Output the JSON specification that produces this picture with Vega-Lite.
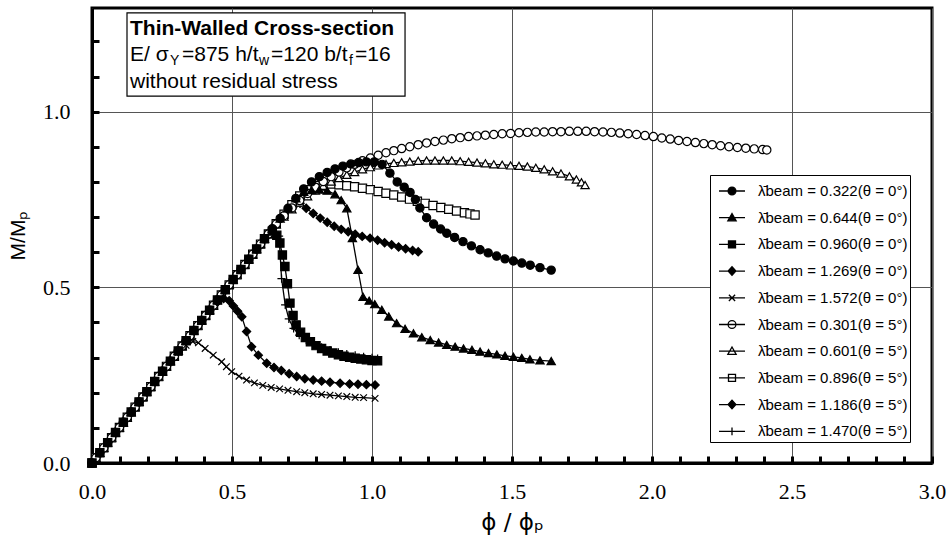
{
"$schema": "https://vega.github.io/schema/vega-lite/v6.json",
"width": 840, "height": 455,
"autosize": "none",
"padding": {"left": 92, "top": 8, "right": 19, "bottom": 80},
"background": "white",
"config": {
  "view": {"stroke": "black", "strokeWidth": 3},
  "axis": {"domainColor": "black", "domainWidth": 3, "tickColor": "black", "tickWidth": 3, "tickSize": -7, "tickCount": 100,
    "labelFont": "Liberation Sans Narrow", "labelFontSize": 22, "labelColor": "black", "labelOverlap": false, "labelFlush": false,
    "titleFont": "Liberation Sans", "titleFontWeight": "normal", "titleColor": "black", "gridWidth": 1}
},
"datasets": {
  "series": [
    {"k": "A", "label": "0.322(θ = 0°)"}, {"k": "B", "label": "0.644(θ = 0°)"}, {"k": "C", "label": "0.960(θ = 0°)"},
    {"k": "D", "label": "1.269(θ = 0°)"}, {"k": "E", "label": "1.572(θ = 0°)"}, {"k": "F", "label": "0.301(θ = 5°)"},
    {"k": "G", "label": "0.601(θ = 5°)"}, {"k": "H", "label": "0.896(θ = 5°)"}, {"k": "I", "label": "1.186(θ = 5°)"},
    {"k": "J", "label": "1.470(θ = 5°)"}
  ],
  "curves": [
    {"k":"A","x":0,"y":0},{"k":"A","x":0.028,"y":0.029},{"k":"A","x":0.056,"y":0.058},{"k":"A","x":0.084,"y":0.087},{"k":"A","x":0.112,"y":0.116},{"k":"A","x":0.14,"y":0.145},{"k":"A","x":0.168,"y":0.174},{"k":"A","x":0.196,"y":0.203},{"k":"A","x":0.224,"y":0.232},{"k":"A","x":0.252,"y":0.261},{"k":"A","x":0.28,"y":0.29},{"k":"A","x":0.308,"y":0.319},{"k":"A","x":0.336,"y":0.348},{"k":"A","x":0.364,"y":0.377},{"k":"A","x":0.392,"y":0.406},{"k":"A","x":0.42,"y":0.435},{"k":"A","x":0.448,"y":0.464},{"k":"A","x":0.476,"y":0.493},{"k":"A","x":0.504,"y":0.522},{"k":"A","x":0.532,"y":0.551},{"k":"A","x":0.56,"y":0.58},{"k":"A","x":0.588,"y":0.609},{"k":"A","x":0.616,"y":0.638},{"k":"A","x":0.644,"y":0.667},{"k":"A","x":0.672,"y":0.696},{"k":"A","x":0.7,"y":0.725},{"k":"A","x":0.728,"y":0.753},
    {"k":"A","x":0.756,"y":0.78},{"k":"A","x":0.784,"y":0.8},{"k":"A","x":0.812,"y":0.815},{"k":"A","x":0.84,"y":0.827},{"k":"A","x":0.868,"y":0.837},{"k":"A","x":0.896,"y":0.845},{"k":"A","x":0.924,"y":0.851},{"k":"A","x":0.952,"y":0.855},{"k":"A","x":0.98,"y":0.857},{"k":"A","x":1.008,"y":0.857},{"k":"A","x":1.036,"y":0.85},{"k":"A","x":1.064,"y":0.825},{"k":"A","x":1.09,"y":0.8},{"k":"A","x":1.115,"y":0.785},{"k":"A","x":1.136,"y":0.77},{"k":"A","x":1.155,"y":0.75},{"k":"A","x":1.171,"y":0.726},{"k":"A","x":1.195,"y":0.698},{"k":"A","x":1.22,"y":0.68},{"k":"A","x":1.245,"y":0.666},{"k":"A","x":1.267,"y":0.654},{"k":"A","x":1.295,"y":0.642},{"k":"A","x":1.325,"y":0.63},{"k":"A","x":1.355,"y":0.618},{"k":"A","x":1.386,"y":0.607},{"k":"A","x":1.415,"y":0.598},{"k":"A","x":1.445,"y":0.589},{"k":"A","x":1.475,"y":0.581},{"k":"A","x":1.505,"y":0.575},{"k":"A","x":1.535,"y":0.569},{"k":"A","x":1.565,"y":0.563},{"k":"A","x":1.6,"y":0.556},{"k":"A","x":1.64,"y":0.549},

    {"k":"B","x":0,"y":0},{"k":"B","x":0.028,"y":0.029},{"k":"B","x":0.056,"y":0.058},{"k":"B","x":0.084,"y":0.087},{"k":"B","x":0.112,"y":0.116},{"k":"B","x":0.14,"y":0.145},{"k":"B","x":0.168,"y":0.174},{"k":"B","x":0.196,"y":0.203},{"k":"B","x":0.224,"y":0.232},{"k":"B","x":0.252,"y":0.261},{"k":"B","x":0.28,"y":0.29},{"k":"B","x":0.308,"y":0.319},{"k":"B","x":0.336,"y":0.348},{"k":"B","x":0.364,"y":0.377},{"k":"B","x":0.392,"y":0.406},{"k":"B","x":0.42,"y":0.435},{"k":"B","x":0.448,"y":0.464},{"k":"B","x":0.476,"y":0.493},{"k":"B","x":0.504,"y":0.522},{"k":"B","x":0.532,"y":0.551},{"k":"B","x":0.56,"y":0.58},{"k":"B","x":0.588,"y":0.609},{"k":"B","x":0.616,"y":0.638},{"k":"B","x":0.644,"y":0.667},{"k":"B","x":0.672,"y":0.696},{"k":"B","x":0.7,"y":0.725},{"k":"B","x":0.728,"y":0.753},
    {"k":"B","x":0.756,"y":0.772},{"k":"B","x":0.784,"y":0.777},{"k":"B","x":0.812,"y":0.778},{"k":"B","x":0.84,"y":0.775},{"k":"B","x":0.868,"y":0.765},{"k":"B","x":0.89,"y":0.748},{"k":"B","x":0.91,"y":0.725},{"k":"B","x":0.93,"y":0.64},{"k":"B","x":0.95,"y":0.55},{"k":"B","x":0.968,"y":0.473},{"k":"B","x":0.99,"y":0.462},{"k":"B","x":1.01,"y":0.452},{"k":"B","x":1.035,"y":0.436},{"k":"B","x":1.06,"y":0.417},{"k":"B","x":1.088,"y":0.398},{"k":"B","x":1.118,"y":0.382},{"k":"B","x":1.148,"y":0.369},{"k":"B","x":1.178,"y":0.358},{"k":"B","x":1.208,"y":0.35},{"k":"B","x":1.238,"y":0.343},{"k":"B","x":1.267,"y":0.336},{"k":"B","x":1.297,"y":0.331},{"k":"B","x":1.327,"y":0.326},{"k":"B","x":1.357,"y":0.322},{"k":"B","x":1.386,"y":0.317},{"k":"B","x":1.416,"y":0.313},{"k":"B","x":1.446,"y":0.309},{"k":"B","x":1.475,"y":0.305},{"k":"B","x":1.505,"y":0.302},{"k":"B","x":1.535,"y":0.299},{"k":"B","x":1.564,"y":0.295},{"k":"B","x":1.6,"y":0.292},{"k":"B","x":1.64,"y":0.29},

    {"k":"C","x":0,"y":0},{"k":"C","x":0.028,"y":0.029},{"k":"C","x":0.056,"y":0.058},{"k":"C","x":0.084,"y":0.087},{"k":"C","x":0.112,"y":0.116},{"k":"C","x":0.14,"y":0.145},{"k":"C","x":0.168,"y":0.174},{"k":"C","x":0.196,"y":0.203},{"k":"C","x":0.224,"y":0.232},{"k":"C","x":0.252,"y":0.261},{"k":"C","x":0.28,"y":0.29},{"k":"C","x":0.308,"y":0.319},{"k":"C","x":0.336,"y":0.348},{"k":"C","x":0.364,"y":0.377},{"k":"C","x":0.392,"y":0.406},{"k":"C","x":0.42,"y":0.435},{"k":"C","x":0.448,"y":0.464},{"k":"C","x":0.476,"y":0.493},{"k":"C","x":0.504,"y":0.522},{"k":"C","x":0.532,"y":0.551},{"k":"C","x":0.56,"y":0.58},{"k":"C","x":0.588,"y":0.609},{"k":"C","x":0.616,"y":0.638},
    {"k":"C","x":0.644,"y":0.66},{"k":"C","x":0.66,"y":0.648},{"k":"C","x":0.671,"y":0.626},{"k":"C","x":0.68,"y":0.592},{"k":"C","x":0.689,"y":0.559},{"k":"C","x":0.698,"y":0.51},{"k":"C","x":0.707,"y":0.455},{"k":"C","x":0.718,"y":0.42},{"k":"C","x":0.729,"y":0.393},{"k":"C","x":0.745,"y":0.372},{"k":"C","x":0.762,"y":0.357},{"k":"C","x":0.78,"y":0.345},{"k":"C","x":0.8,"y":0.334},{"k":"C","x":0.82,"y":0.326},{"k":"C","x":0.84,"y":0.319},{"k":"C","x":0.86,"y":0.313},{"k":"C","x":0.88,"y":0.308},{"k":"C","x":0.9,"y":0.304},{"k":"C","x":0.92,"y":0.301},{"k":"C","x":0.94,"y":0.298},{"k":"C","x":0.96,"y":0.296},{"k":"C","x":0.98,"y":0.294},{"k":"C","x":1.0,"y":0.292},{"k":"C","x":1.02,"y":0.291},

    {"k":"D","x":0,"y":0},{"k":"D","x":0.028,"y":0.029},{"k":"D","x":0.056,"y":0.058},{"k":"D","x":0.084,"y":0.087},{"k":"D","x":0.112,"y":0.116},{"k":"D","x":0.14,"y":0.145},{"k":"D","x":0.168,"y":0.174},{"k":"D","x":0.196,"y":0.203},{"k":"D","x":0.224,"y":0.232},{"k":"D","x":0.252,"y":0.261},{"k":"D","x":0.28,"y":0.29},{"k":"D","x":0.308,"y":0.319},{"k":"D","x":0.336,"y":0.348},{"k":"D","x":0.364,"y":0.377},{"k":"D","x":0.392,"y":0.406},{"k":"D","x":0.42,"y":0.435},
    {"k":"D","x":0.448,"y":0.458},{"k":"D","x":0.47,"y":0.468},{"k":"D","x":0.49,"y":0.462},{"k":"D","x":0.505,"y":0.447},{"k":"D","x":0.52,"y":0.432},{"k":"D","x":0.535,"y":0.416},{"k":"D","x":0.552,"y":0.374},{"k":"D","x":0.57,"y":0.331},{"k":"D","x":0.594,"y":0.307},{"k":"D","x":0.624,"y":0.284},{"k":"D","x":0.65,"y":0.272},{"k":"D","x":0.676,"y":0.263},{"k":"D","x":0.704,"y":0.254},{"k":"D","x":0.731,"y":0.246},{"k":"D","x":0.76,"y":0.24},{"k":"D","x":0.79,"y":0.236},{"k":"D","x":0.82,"y":0.233},{"k":"D","x":0.85,"y":0.23},{"k":"D","x":0.886,"y":0.227},{"k":"D","x":0.92,"y":0.225},{"k":"D","x":0.95,"y":0.224},{"k":"D","x":0.98,"y":0.223},{"k":"D","x":1.011,"y":0.222},

    {"k":"E","x":0,"y":0},{"k":"E","x":0.028,"y":0.029},{"k":"E","x":0.056,"y":0.058},{"k":"E","x":0.084,"y":0.087},{"k":"E","x":0.112,"y":0.116},{"k":"E","x":0.14,"y":0.145},{"k":"E","x":0.168,"y":0.174},{"k":"E","x":0.196,"y":0.203},{"k":"E","x":0.224,"y":0.232},{"k":"E","x":0.252,"y":0.261},{"k":"E","x":0.28,"y":0.29},
    {"k":"E","x":0.308,"y":0.315},{"k":"E","x":0.336,"y":0.335},{"k":"E","x":0.36,"y":0.346},{"k":"E","x":0.38,"y":0.342},{"k":"E","x":0.404,"y":0.326},{"k":"E","x":0.433,"y":0.307},{"k":"E","x":0.463,"y":0.288},{"k":"E","x":0.48,"y":0.274},{"k":"E","x":0.499,"y":0.26},{"k":"E","x":0.525,"y":0.247},{"k":"E","x":0.552,"y":0.236},{"k":"E","x":0.58,"y":0.228},{"k":"E","x":0.61,"y":0.221},{"k":"E","x":0.64,"y":0.215},{"k":"E","x":0.67,"y":0.211},{"k":"E","x":0.7,"y":0.207},{"k":"E","x":0.731,"y":0.203},{"k":"E","x":0.76,"y":0.2},{"k":"E","x":0.79,"y":0.197},{"k":"E","x":0.82,"y":0.195},{"k":"E","x":0.85,"y":0.193},{"k":"E","x":0.88,"y":0.191},{"k":"E","x":0.91,"y":0.189},{"k":"E","x":0.94,"y":0.187},{"k":"E","x":0.97,"y":0.186},{"k":"E","x":1.011,"y":0.184},

    {"k":"F","x":0,"y":0},{"k":"F","x":0.014,"y":0.015},{"k":"F","x":0.042,"y":0.043},{"k":"F","x":0.07,"y":0.072},{"k":"F","x":0.098,"y":0.101},{"k":"F","x":0.126,"y":0.13},{"k":"F","x":0.154,"y":0.159},{"k":"F","x":0.182,"y":0.188},{"k":"F","x":0.21,"y":0.217},{"k":"F","x":0.238,"y":0.246},{"k":"F","x":0.266,"y":0.275},{"k":"F","x":0.294,"y":0.304},{"k":"F","x":0.322,"y":0.333},{"k":"F","x":0.35,"y":0.362},{"k":"F","x":0.378,"y":0.391},{"k":"F","x":0.406,"y":0.42},{"k":"F","x":0.434,"y":0.449},{"k":"F","x":0.462,"y":0.478},{"k":"F","x":0.49,"y":0.507},{"k":"F","x":0.518,"y":0.536},{"k":"F","x":0.546,"y":0.565},{"k":"F","x":0.574,"y":0.594},{"k":"F","x":0.602,"y":0.623},{"k":"F","x":0.63,"y":0.652},{"k":"F","x":0.658,"y":0.68},
    {"k":"F","x":0.686,"y":0.704},{"k":"F","x":0.714,"y":0.726},{"k":"F","x":0.742,"y":0.747},{"k":"F","x":0.77,"y":0.767},{"k":"F","x":0.798,"y":0.785},{"k":"F","x":0.826,"y":0.801},{"k":"F","x":0.854,"y":0.815},{"k":"F","x":0.882,"y":0.828},{"k":"F","x":0.91,"y":0.84},{"k":"F","x":0.938,"y":0.85},{"k":"F","x":0.966,"y":0.86},{"k":"F","x":0.994,"y":0.868},{"k":"F","x":1.022,"y":0.876},{"k":"F","x":1.05,"y":0.883},{"k":"F","x":1.078,"y":0.889},{"k":"F","x":1.106,"y":0.895},{"k":"F","x":1.135,"y":0.9},{"k":"F","x":1.165,"y":0.906},{"k":"F","x":1.195,"y":0.911},{"k":"F","x":1.225,"y":0.915},{"k":"F","x":1.255,"y":0.919},{"k":"F","x":1.285,"y":0.923},{"k":"F","x":1.315,"y":0.926},{"k":"F","x":1.345,"y":0.929},{"k":"F","x":1.375,"y":0.931},{"k":"F","x":1.405,"y":0.933},{"k":"F","x":1.435,"y":0.935},{"k":"F","x":1.465,"y":0.937},{"k":"F","x":1.495,"y":0.938},{"k":"F","x":1.525,"y":0.94},{"k":"F","x":1.555,"y":0.941},{"k":"F","x":1.585,"y":0.942},{"k":"F","x":1.615,"y":0.942},{"k":"F","x":1.645,"y":0.943},{"k":"F","x":1.675,"y":0.943},{"k":"F","x":1.705,"y":0.944},{"k":"F","x":1.735,"y":0.944},{"k":"F","x":1.765,"y":0.944},{"k":"F","x":1.795,"y":0.943},{"k":"F","x":1.825,"y":0.942},{"k":"F","x":1.855,"y":0.941},{"k":"F","x":1.885,"y":0.939},{"k":"F","x":1.915,"y":0.937},{"k":"F","x":1.945,"y":0.935},{"k":"F","x":1.975,"y":0.932},{"k":"F","x":2.005,"y":0.929},{"k":"F","x":2.035,"y":0.925},{"k":"F","x":2.065,"y":0.922},{"k":"F","x":2.095,"y":0.918},{"k":"F","x":2.125,"y":0.915},{"k":"F","x":2.155,"y":0.912},{"k":"F","x":2.185,"y":0.909},{"k":"F","x":2.215,"y":0.906},{"k":"F","x":2.245,"y":0.903},{"k":"F","x":2.275,"y":0.9},{"k":"F","x":2.305,"y":0.898},{"k":"F","x":2.335,"y":0.896},{"k":"F","x":2.365,"y":0.894},{"k":"F","x":2.395,"y":0.892},{"k":"F","x":2.41,"y":0.891},

    {"k":"G","x":0,"y":0},{"k":"G","x":0.014,"y":0.015},{"k":"G","x":0.042,"y":0.043},{"k":"G","x":0.07,"y":0.072},{"k":"G","x":0.098,"y":0.101},{"k":"G","x":0.126,"y":0.13},{"k":"G","x":0.154,"y":0.159},{"k":"G","x":0.182,"y":0.188},{"k":"G","x":0.21,"y":0.217},{"k":"G","x":0.238,"y":0.246},{"k":"G","x":0.266,"y":0.275},{"k":"G","x":0.294,"y":0.304},{"k":"G","x":0.322,"y":0.333},{"k":"G","x":0.35,"y":0.362},{"k":"G","x":0.378,"y":0.391},{"k":"G","x":0.406,"y":0.42},{"k":"G","x":0.434,"y":0.449},{"k":"G","x":0.462,"y":0.478},{"k":"G","x":0.49,"y":0.507},{"k":"G","x":0.518,"y":0.536},{"k":"G","x":0.546,"y":0.565},{"k":"G","x":0.574,"y":0.594},{"k":"G","x":0.602,"y":0.623},{"k":"G","x":0.63,"y":0.652},{"k":"G","x":0.658,"y":0.679},
    {"k":"G","x":0.686,"y":0.701},{"k":"G","x":0.714,"y":0.722},{"k":"G","x":0.742,"y":0.741},{"k":"G","x":0.77,"y":0.759},{"k":"G","x":0.798,"y":0.775},{"k":"G","x":0.826,"y":0.789},{"k":"G","x":0.854,"y":0.801},{"k":"G","x":0.882,"y":0.811},{"k":"G","x":0.91,"y":0.82},{"k":"G","x":0.938,"y":0.828},{"k":"G","x":0.966,"y":0.836},{"k":"G","x":0.994,"y":0.842},{"k":"G","x":1.022,"y":0.847},{"k":"G","x":1.05,"y":0.851},{"k":"G","x":1.078,"y":0.854},{"k":"G","x":1.106,"y":0.856},{"k":"G","x":1.135,"y":0.858},{"k":"G","x":1.165,"y":0.86},{"k":"G","x":1.195,"y":0.861},{"k":"G","x":1.225,"y":0.861},{"k":"G","x":1.255,"y":0.861},{"k":"G","x":1.285,"y":0.861},{"k":"G","x":1.315,"y":0.859},{"k":"G","x":1.345,"y":0.857},{"k":"G","x":1.375,"y":0.855},{"k":"G","x":1.405,"y":0.853},{"k":"G","x":1.435,"y":0.85},{"k":"G","x":1.465,"y":0.849},{"k":"G","x":1.495,"y":0.847},{"k":"G","x":1.525,"y":0.846},{"k":"G","x":1.555,"y":0.844},{"k":"G","x":1.585,"y":0.84},{"k":"G","x":1.615,"y":0.836},{"k":"G","x":1.645,"y":0.83},{"k":"G","x":1.675,"y":0.824},{"k":"G","x":1.705,"y":0.816},{"k":"G","x":1.73,"y":0.807},{"k":"G","x":1.748,"y":0.799},{"k":"G","x":1.761,"y":0.791},

    {"k":"H","x":0,"y":0},{"k":"H","x":0.014,"y":0.015},{"k":"H","x":0.042,"y":0.043},{"k":"H","x":0.07,"y":0.072},{"k":"H","x":0.098,"y":0.101},{"k":"H","x":0.126,"y":0.13},{"k":"H","x":0.154,"y":0.159},{"k":"H","x":0.182,"y":0.188},{"k":"H","x":0.21,"y":0.217},{"k":"H","x":0.238,"y":0.246},{"k":"H","x":0.266,"y":0.275},{"k":"H","x":0.294,"y":0.304},{"k":"H","x":0.322,"y":0.333},{"k":"H","x":0.35,"y":0.362},{"k":"H","x":0.378,"y":0.391},{"k":"H","x":0.406,"y":0.42},{"k":"H","x":0.434,"y":0.449},{"k":"H","x":0.462,"y":0.478},{"k":"H","x":0.49,"y":0.507},{"k":"H","x":0.518,"y":0.536},{"k":"H","x":0.546,"y":0.565},{"k":"H","x":0.574,"y":0.594},{"k":"H","x":0.602,"y":0.623},{"k":"H","x":0.63,"y":0.652},{"k":"H","x":0.658,"y":0.681},{"k":"H","x":0.686,"y":0.708},
    {"k":"H","x":0.714,"y":0.735},{"k":"H","x":0.742,"y":0.76},{"k":"H","x":0.77,"y":0.778},{"k":"H","x":0.798,"y":0.79},{"k":"H","x":0.826,"y":0.795},{"k":"H","x":0.854,"y":0.794},{"k":"H","x":0.882,"y":0.792},{"k":"H","x":0.91,"y":0.789},{"k":"H","x":0.938,"y":0.786},{"k":"H","x":0.966,"y":0.782},{"k":"H","x":0.994,"y":0.778},{"k":"H","x":1.022,"y":0.773},{"k":"H","x":1.05,"y":0.768},{"k":"H","x":1.078,"y":0.763},{"k":"H","x":1.106,"y":0.757},{"k":"H","x":1.134,"y":0.751},{"k":"H","x":1.162,"y":0.745},{"k":"H","x":1.19,"y":0.739},{"k":"H","x":1.218,"y":0.733},{"k":"H","x":1.246,"y":0.727},{"k":"H","x":1.274,"y":0.722},{"k":"H","x":1.302,"y":0.717},{"k":"H","x":1.33,"y":0.712},{"k":"H","x":1.35,"y":0.709},{"k":"H","x":1.368,"y":0.706},

    {"k":"I","x":0,"y":0},{"k":"I","x":0.014,"y":0.015},{"k":"I","x":0.042,"y":0.043},{"k":"I","x":0.07,"y":0.072},{"k":"I","x":0.098,"y":0.101},{"k":"I","x":0.126,"y":0.13},{"k":"I","x":0.154,"y":0.159},{"k":"I","x":0.182,"y":0.188},{"k":"I","x":0.21,"y":0.217},{"k":"I","x":0.238,"y":0.246},{"k":"I","x":0.266,"y":0.275},{"k":"I","x":0.294,"y":0.304},{"k":"I","x":0.322,"y":0.333},{"k":"I","x":0.35,"y":0.362},{"k":"I","x":0.378,"y":0.391},{"k":"I","x":0.406,"y":0.42},{"k":"I","x":0.434,"y":0.449},{"k":"I","x":0.462,"y":0.478},{"k":"I","x":0.49,"y":0.507},{"k":"I","x":0.518,"y":0.536},{"k":"I","x":0.546,"y":0.565},{"k":"I","x":0.574,"y":0.594},{"k":"I","x":0.602,"y":0.623},{"k":"I","x":0.63,"y":0.652},{"k":"I","x":0.658,"y":0.681},{"k":"I","x":0.686,"y":0.708},
    {"k":"I","x":0.71,"y":0.728},{"k":"I","x":0.728,"y":0.737},{"k":"I","x":0.743,"y":0.739},{"k":"I","x":0.765,"y":0.725},{"k":"I","x":0.79,"y":0.71},{"k":"I","x":0.815,"y":0.697},{"k":"I","x":0.84,"y":0.685},{"k":"I","x":0.865,"y":0.674},{"k":"I","x":0.89,"y":0.665},{"k":"I","x":0.915,"y":0.658},{"k":"I","x":0.94,"y":0.651},{"k":"I","x":0.965,"y":0.645},{"k":"I","x":0.993,"y":0.64},{"k":"I","x":1.02,"y":0.634},{"k":"I","x":1.045,"y":0.627},{"k":"I","x":1.07,"y":0.621},{"k":"I","x":1.095,"y":0.615},{"k":"I","x":1.12,"y":0.61},{"k":"I","x":1.145,"y":0.605},{"k":"I","x":1.165,"y":0.601},

    {"k":"J","x":0,"y":0},{"k":"J","x":0.014,"y":0.015},{"k":"J","x":0.042,"y":0.043},{"k":"J","x":0.07,"y":0.072},{"k":"J","x":0.098,"y":0.101},{"k":"J","x":0.126,"y":0.13},{"k":"J","x":0.154,"y":0.159},{"k":"J","x":0.182,"y":0.188},{"k":"J","x":0.21,"y":0.217},{"k":"J","x":0.238,"y":0.246},{"k":"J","x":0.266,"y":0.275},{"k":"J","x":0.294,"y":0.304},{"k":"J","x":0.322,"y":0.333},{"k":"J","x":0.35,"y":0.362},{"k":"J","x":0.378,"y":0.391},{"k":"J","x":0.406,"y":0.42},{"k":"J","x":0.434,"y":0.449},{"k":"J","x":0.462,"y":0.478},{"k":"J","x":0.49,"y":0.507},{"k":"J","x":0.518,"y":0.536},{"k":"J","x":0.546,"y":0.565},{"k":"J","x":0.574,"y":0.594},{"k":"J","x":0.602,"y":0.623},
    {"k":"J","x":0.63,"y":0.648},{"k":"J","x":0.652,"y":0.657},{"k":"J","x":0.668,"y":0.646},{"k":"J","x":0.677,"y":0.525},{"k":"J","x":0.69,"y":0.45},{"k":"J","x":0.703,"y":0.41},{"k":"J","x":0.72,"y":0.383},{"k":"J","x":0.74,"y":0.364},{"k":"J","x":0.765,"y":0.35},{"k":"J","x":0.79,"y":0.339},{"k":"J","x":0.82,"y":0.329},{"k":"J","x":0.85,"y":0.321},{"k":"J","x":0.88,"y":0.315},{"k":"J","x":0.91,"y":0.31},{"k":"J","x":0.94,"y":0.306},{"k":"J","x":0.97,"y":0.302},{"k":"J","x":1.0,"y":0.299},{"k":"J","x":1.02,"y":0.297}
  ]
},
"data": {"name": "curves"},
"transform": [{"lookup": "k", "from": {"data": {"name": "series"}, "key": "k", "fields": ["label"]}}],
"layer": [
  {
    "mark": {"type": "line", "color": "black", "strokeWidth": 1.3},
    "encoding": {
      "x": {"field": "x", "type": "quantitative", "scale": {"domain": [0, 3], "nice": false, "zero": false},
        "axis": {"title": "ϕ / ϕₚ", "titleFontSize": 23, "titleFont": "DejaVu Sans", "titlePadding": 9, "labelPadding": 25, "tickCount": 100,
          "values": [0,0.1,0.2,0.3,0.4,0.5,0.6,0.7,0.8,0.9,1,1.1,1.2,1.3,1.4,1.5,1.6,1.7,1.8,1.9,2,2.1,2.2,2.3,2.4,2.5,2.6,2.7,2.8,2.9,3],
          "labelExpr": "indexof([0,0.5,1,1.5,2,2.5,3], datum.value) >= 0 ? format(datum.value, '.1f') : ''",
          "grid": true,
          "gridColor": {"condition": {"test": "indexof([0,0.5,1,1.5,2,2.5,3], datum.value) >= 0", "value": "#555555"}, "value": "rgba(0,0,0,0)"}}},
      "y": {"field": "y", "type": "quantitative", "scale": {"domain": [0, 1.295], "nice": false, "zero": false},
        "axis": {"title": "M/Mₚ", "titleFontSize": 21, "titlePadding": 14, "labelPadding": 29, "tickCount": 100,
          "values": [0,0.1,0.2,0.3,0.4,0.5,0.6,0.7,0.8,0.9,1,1.1,1.2],
          "labelExpr": "indexof([0,0.5,1], datum.value) >= 0 ? format(datum.value, '.1f') : ''",
          "grid": true,
          "gridColor": {"condition": {"test": "indexof([0,0.5,1], datum.value) >= 0", "value": "#555555"}, "value": "rgba(0,0,0,0)"}}},
      "detail": {"field": "k"}
    }
  },
  {
    "mark": {"type": "point", "filled": true, "stroke": "black", "strokeWidth": 1.2, "size": 68, "opacity": 1},
    "encoding": {
      "x": {"field": "x", "type": "quantitative"},
      "y": {"field": "y", "type": "quantitative"},
      "order": {"field": "k", "sort": "descending"},
      "shape": {"field": "label", "type": "nominal", "legend": null,
        "scale": {"domain": ["0.322(θ = 0°)","0.644(θ = 0°)","0.960(θ = 0°)","1.269(θ = 0°)","1.572(θ = 0°)","0.301(θ = 5°)","0.601(θ = 5°)","0.896(θ = 5°)","1.186(θ = 5°)","1.470(θ = 5°)"],
          "range": ["circle","triangle-up","square","diamond","M-0.8,-0.8L0.8,0.8M-0.8,0.8L0.8,-0.8","circle","triangle-up","square","diamond","M-1,0H1M0,-1V1"]}},
      "fill": {"field": "label", "type": "nominal", "legend": null,
        "scale": {"domain": ["0.322(θ = 0°)","0.644(θ = 0°)","0.960(θ = 0°)","1.269(θ = 0°)","1.572(θ = 0°)","0.301(θ = 5°)","0.601(θ = 5°)","0.896(θ = 5°)","1.186(θ = 5°)","1.470(θ = 5°)"],
          "range": ["black","black","black","black","black","white","white","white","black","black"]}}
    }
  },
  {
    "transform": [{"filter": "datum.x < 0"}],
    "mark": {"type": "point", "filled": true, "stroke": "black", "strokeWidth": 1.3},
    "encoding": {
      "x": {"field": "x", "type": "quantitative"},
      "y": {"field": "y", "type": "quantitative"},
      "shape": {"field": "label", "type": "nominal",
        "scale": {"domain": ["0.322(θ = 0°)","0.644(θ = 0°)","0.960(θ = 0°)","1.269(θ = 0°)","1.572(θ = 0°)","0.301(θ = 5°)","0.601(θ = 5°)","0.896(θ = 5°)","1.186(θ = 5°)","1.470(θ = 5°)"],
          "range": [
            "M-1,0H1M0.3,0A0.3,0.3 0 1,1 -0.3,0A0.3,0.3 0 1,1 0.3,0Z",
            "M-1,0H1M0,-0.32L0.32,0.24L-0.32,0.24Z",
            "M-1,0H1M-0.27,-0.27H0.27V0.27H-0.27Z",
            "M-1,0H1M0,-0.33L0.3,0L0,0.33L-0.3,0Z",
            "M-1,0H1M-0.24,-0.24L0.24,0.24M-0.24,0.24L0.24,-0.24",
            "M-1,0H1M0.3,0A0.3,0.3 0 1,1 -0.3,0A0.3,0.3 0 1,1 0.3,0Z",
            "M-1,0H1M0,-0.32L0.32,0.24L-0.32,0.24Z",
            "M-1,0H1M-0.27,-0.27H0.27V0.27H-0.27Z",
            "M-1,0H1M0,-0.33L0.3,0L0,0.33L-0.3,0Z",
            "M-1,0H1M0,-0.3V0.3"]},
        "legend": {"orient": "none", "legendX": 618, "legendY": 167, "title": null, "padding": 2, "symbolOffset": 6,
          "strokeColor": "black", "fillColor": "white", "symbolSize": 676, "symbolStrokeWidth": 1.3, "symbolOpacity": 1,
          "labelFont": "Liberation Sans", "labelFontSize": 15, "labelColor": "black", "labelOffset": 12, "rowPadding": 4.7,
          "labelExpr": "'λ̄beam = ' + datum.label"}},
      "fill": {"field": "label", "type": "nominal",
        "scale": {"domain": ["0.322(θ = 0°)","0.644(θ = 0°)","0.960(θ = 0°)","1.269(θ = 0°)","1.572(θ = 0°)","0.301(θ = 5°)","0.601(θ = 5°)","0.896(θ = 5°)","1.186(θ = 5°)","1.470(θ = 5°)"],
          "range": ["black","black","black","black","black","white","white","white","black","black"]},
        "legend": {"orient": "none", "legendX": 618, "legendY": 167, "title": null, "padding": 2, "symbolOffset": 6,
          "strokeColor": "black", "fillColor": "white", "symbolSize": 676, "symbolStrokeWidth": 1.3, "symbolOpacity": 1,
          "labelFont": "Liberation Sans", "labelFontSize": 15, "labelColor": "black", "labelOffset": 12, "rowPadding": 4.7,
          "labelExpr": "'λ̄beam = ' + datum.label"}}
    }
  },
  {
    "data": {"values": [{}]},
    "mark": {"type": "rect", "fill": "white", "stroke": "black", "strokeWidth": 1.2},
    "encoding": {"x": {"datum": 0.125}, "x2": {"datum": 1.118}, "y": {"datum": 1.281}, "y2": {"datum": 1.044}}
  },
  {
    "data": {"values": [{"t": "Thin-Walled Cross-section"}]},
    "mark": {"type": "text", "align": "left", "baseline": "alphabetic", "font": "Liberation Sans", "fontSize": 21, "fontWeight": "bold", "color": "black"},
    "encoding": {"x": {"datum": 0.1357}, "y": {"datum": 1.218}, "text": {"field": "t"}}
  },
  {
    "data": {"values": [{"t": "E/ σ"}]},
    "mark": {"type": "text", "align": "left", "baseline": "alphabetic", "font": "Liberation Sans", "fontSize": 21, "color": "black"},
    "encoding": {"x": {"datum": 0.1357}, "y": {"datum": 1.144}, "text": {"field": "t"}}
  },
  {
    "data": {"values": [{"t": "Y"}]},
    "mark": {"type": "text", "align": "left", "baseline": "alphabetic", "font": "Liberation Sans", "fontSize": 14, "color": "black", "dy": 4},
    "encoding": {"x": {"datum": 0.2786}, "y": {"datum": 1.144}, "text": {"field": "t"}}
  },
  {
    "data": {"values": [{"t": "=875 h/t"}]},
    "mark": {"type": "text", "align": "left", "baseline": "alphabetic", "font": "Liberation Sans", "fontSize": 21, "color": "black"},
    "encoding": {"x": {"datum": 0.3214}, "y": {"datum": 1.144}, "text": {"field": "t"}}
  },
  {
    "data": {"values": [{"t": "w"}]},
    "mark": {"type": "text", "align": "left", "baseline": "alphabetic", "font": "Liberation Sans", "fontSize": 14, "color": "black", "dy": 4},
    "encoding": {"x": {"datum": 0.5964}, "y": {"datum": 1.144}, "text": {"field": "t"}}
  },
  {
    "data": {"values": [{"t": "=120 b/t"}]},
    "mark": {"type": "text", "align": "left", "baseline": "alphabetic", "font": "Liberation Sans", "fontSize": 21, "color": "black"},
    "encoding": {"x": {"datum": 0.6393}, "y": {"datum": 1.144}, "text": {"field": "t"}}
  },
  {
    "data": {"values": [{"t": "f"}]},
    "mark": {"type": "text", "align": "left", "baseline": "alphabetic", "font": "Liberation Sans", "fontSize": 14, "color": "black", "dy": 4},
    "encoding": {"x": {"datum": 0.9179}, "y": {"datum": 1.144}, "text": {"field": "t"}}
  },
  {
    "data": {"values": [{"t": "=16"}]},
    "mark": {"type": "text", "align": "left", "baseline": "alphabetic", "font": "Liberation Sans", "fontSize": 21, "color": "black"},
    "encoding": {"x": {"datum": 0.9393}, "y": {"datum": 1.144}, "text": {"field": "t"}}
  },
  {
    "data": {"values": [{"t": "without residual stress"}]},
    "mark": {"type": "text", "align": "left", "baseline": "alphabetic", "font": "Liberation Sans", "fontSize": 21, "color": "black"},
    "encoding": {"x": {"datum": 0.1357}, "y": {"datum": 1.067}, "text": {"field": "t"}}
  }
],
"resolve": {"scale": {"shape": "independent", "fill": "independent"}}
}
